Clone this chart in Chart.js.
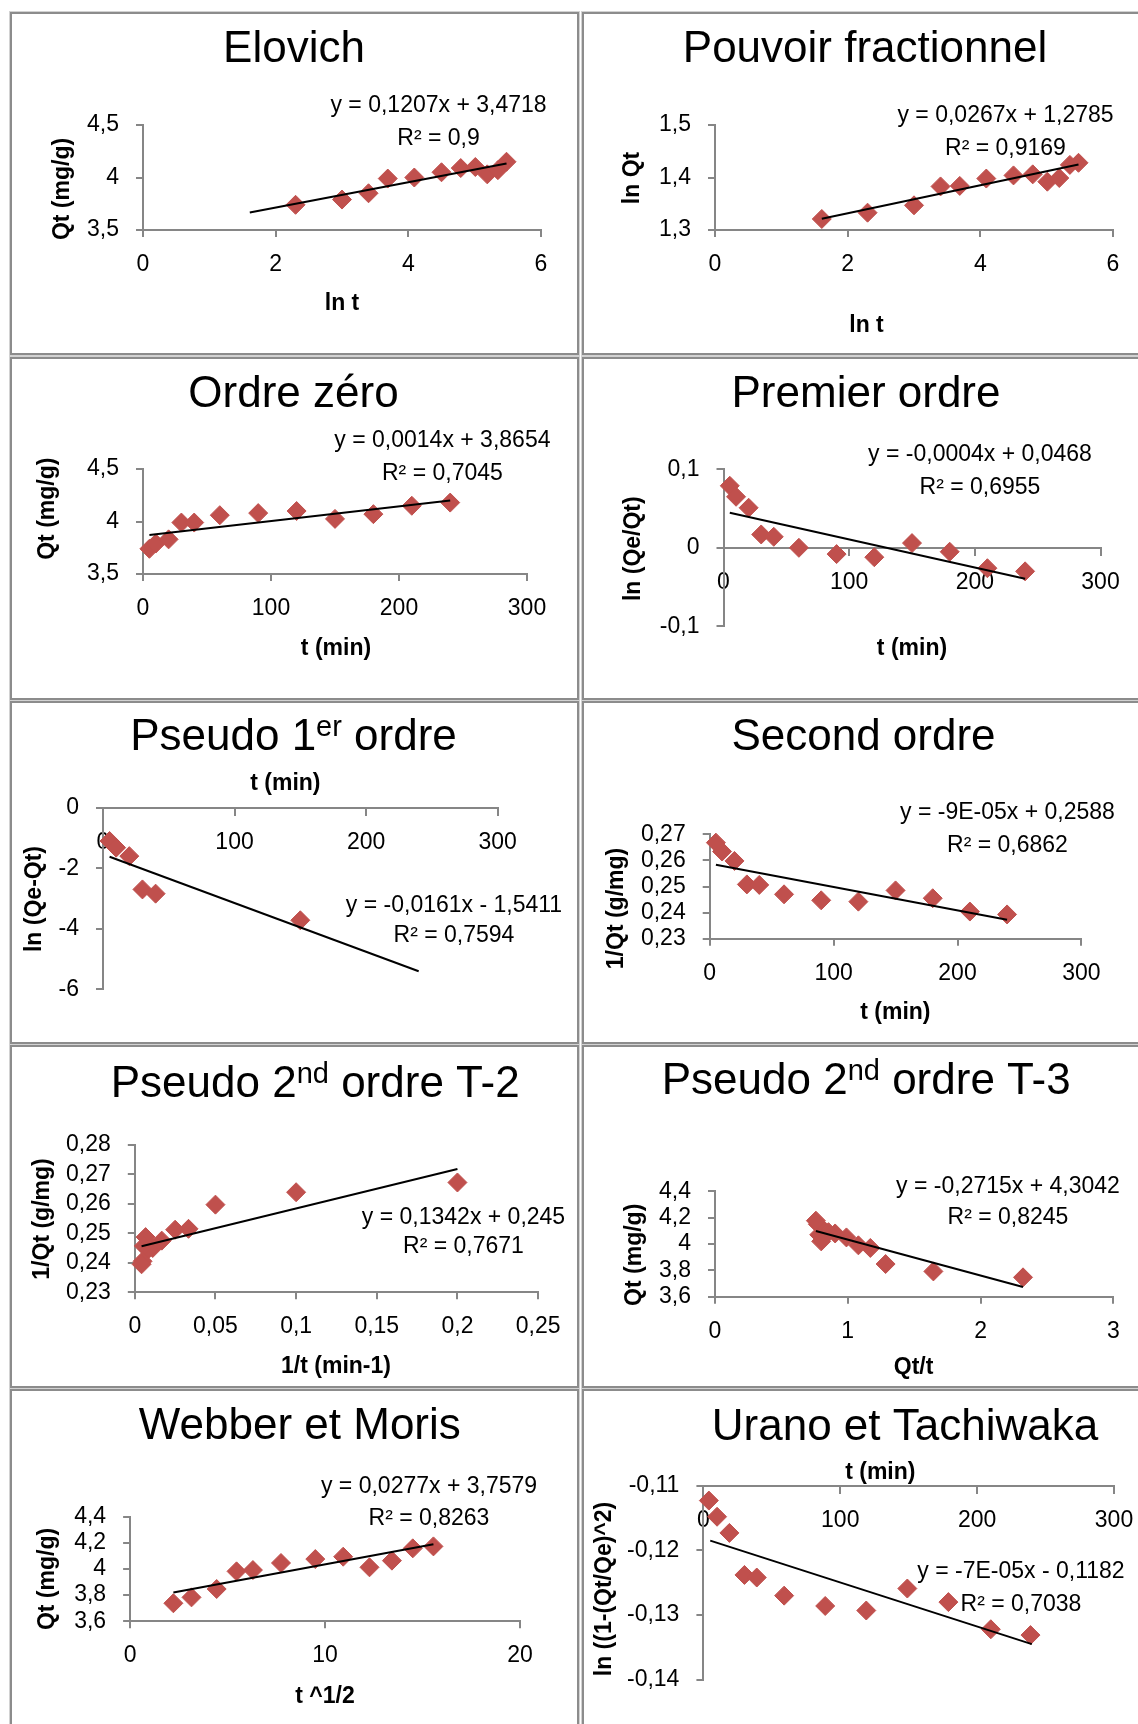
<!DOCTYPE html>
<html><head><meta charset="utf-8">
<script src="https://cdn.jsdelivr.net/npm/chart.js@4.4.0/dist/chart.umd.min.js"></script>
<style>
html,body{margin:0;padding:0;background:#fff;}
body{width:1138px;height:1724px;overflow:hidden;position:relative;}
.box{position:absolute;box-sizing:border-box;border:2px solid #8c8c8c;outline:1px solid #d2d2d2;}
canvas{position:absolute;}
</style></head><body>
<script>
// ================= DATA =================
const tMin = [5, 10, 20, 30, 40, 60, 90, 120, 150, 180, 210, 240];

// Elovich : Qt vs ln t
const elovichX = [2.30, 3.00, 3.40, 3.69, 4.09, 4.50, 4.79, 5.01, 5.19, 5.35, 5.48];
const elovichY = [3.74, 3.79, 3.85, 3.99, 4.00, 4.05, 4.09, 4.10, 4.03, 4.07, 4.15];
const elovichFitX = [1.61, 5.48];
const elovichFitY = [3.666, 4.133];
const elovichEq = ['y = 0,1207x + 3,4718', 'R² = 0,9'];
const elovichXRange = [0, 6, 2];
const elovichYRange = [3.5, 4.5, 0.5];

// Pouvoir fractionnel : ln Qt vs ln t
const pouvoirX = [1.61, 2.30, 3.00, 3.40, 3.69, 4.09, 4.50, 4.79, 5.01, 5.19, 5.35, 5.48];
const pouvoirY = [1.321, 1.333, 1.347, 1.383, 1.384, 1.398, 1.404, 1.406, 1.392, 1.399, 1.424, 1.428];
const pouvoirFitX = [1.61, 5.48];
const pouvoirFitY = [1.3215, 1.4248];
const pouvoirEq = ['y = 0,0267x + 1,2785', 'R² = 0,9169'];
const pouvoirXRange = [0, 6, 2];
const pouvoirYRange = [1.3, 1.5, 0.1];

// Ordre zéro : Qt vs t
const zeroY = [3.74, 3.79, 3.83, 3.99, 3.99, 4.06, 4.08, 4.10, 4.025, 4.07, 4.15, 4.18];
const zeroFitX = [5, 240];
const zeroFitY = [3.872, 4.201];
const zeroEq = ['y = 0,0014x + 3,8654', 'R² = 0,7045'];
const zeroXRange = [0, 300, 100];
const zeroYRange = [3.5, 4.5, 0.5];

// Premier ordre : ln(Qe/Qt) vs t
const premierY = [0.079, 0.065, 0.051, 0.017, 0.014, 0.000, -0.008, -0.012, 0.006, -0.005, -0.026, -0.030];
const premierFitX = [5, 240];
const premierFitY = [0.0446, -0.0395];
const premierEq = ['y = -0,0004x + 0,0468', 'R² = 0,6955'];
const premierXRange = [0, 300, 100];
const premierYRange = [-0.1, 0.1, 0.1];

// Pseudo 1er ordre : ln(Qe-Qt) vs t
const pseudo1T = [5, 10, 20, 30, 40, 150];
const pseudo1Y = [-1.10, -1.32, -1.60, -2.70, -2.84, -3.72];
const pseudo1FitX = [5, 240];
const pseudo1FitY = [-1.62, -5.405];
const pseudo1Eq = ['y = -0,0161x - 1,5411', 'R² = 0,7594'];
const pseudo1XRange = [0, 300, 100];
const pseudo1YRange = [-6, 0, 2];

// Second ordre : 1/Qt vs t
const secondY = [0.2668, 0.2634, 0.2598, 0.2508, 0.2506, 0.2470, 0.2447, 0.2442, 0.2485, 0.2455, 0.2404, 0.2393];
const secondFitX = [5, 240];
const secondFitY = [0.2583, 0.2373];
const secondEq = ['y = -9E-05x + 0,2588', 'R² = 0,6862'];
const secondXRange = [0, 300, 100];
const secondYRange = [0.23, 0.27, 0.01];

// Pseudo 2nd ordre T-2 : 1/Qt vs 1/t
const t2X = [0.2, 0.1, 0.05, 0.0333, 0.025, 0.0167, 0.0111, 0.0083, 0.0067, 0.0056, 0.0048, 0.0042];
const t2Y = [0.2672, 0.2639, 0.2597, 0.2515, 0.2512, 0.2475, 0.2450, 0.2445, 0.2487, 0.2457, 0.2405, 0.2395];
const t2FitX = [0.0042, 0.2];
const t2FitY = [0.2456, 0.2718];
const t2Eq = ['y = 0,1342x + 0,245', 'R² = 0,7671'];
const t2XRange = [0, 0.25, 0.05];
const t2YRange = [0.23, 0.28, 0.01];

// Pseudo 2nd ordre T-3 : Qt vs Qt/t
const t3X = [2.32, 1.645, 1.285, 1.17, 1.08, 0.99, 0.905, 0.855, 0.80, 0.785, 0.775, 0.76];
const t3Y = [3.747, 3.792, 3.848, 3.97, 3.99, 4.05, 4.08, 4.09, 4.02, 4.07, 4.15, 4.177];
const t3FitX = [0.76, 2.32];
const t3FitY = [4.098, 3.674];
const t3Eq = ['y = -0,2715x + 4,3042', 'R² = 0,8245'];
const t3XRange = [0, 3, 1];
const t3YRange = [3.6, 4.4, 0.2];

// Webber et Moris : Qt vs t^1/2
const webberX = [2.22, 3.15, 4.44, 5.46, 6.30, 7.74, 9.50, 10.93, 12.28, 13.43, 14.50, 15.56];
const webberY = [3.738, 3.783, 3.847, 3.982, 3.992, 4.046, 4.076, 4.094, 4.013, 4.064, 4.158, 4.173];
const webberFitX = [2.22, 15.56];
const webberFitY = [3.820, 4.189];
const webberEq = ['y = 0,0277x + 3,7579', 'R² = 0,8263'];
const webberXRange = [0, 20, 10];
const webberYRange = [3.6, 4.4, 0.2];

// Urano et Tachiwaka : ln(1-(Qt/Qe)^2) vs t
const uranoT = [4, 10, 19, 30, 39, 59, 89, 119, 149, 179, 210, 239];
const uranoY = [-0.1123, -0.1148, -0.1173, -0.1238, -0.1242, -0.1270, -0.1286, -0.1293, -0.1259, -0.1280, -0.1322, -0.1331];
const uranoFitX = [5, 240];
const uranoFitY = [-0.1185, -0.1345];
const uranoEq = ['y = -7E-05x - 0,1182', 'R² = 0,7038'];
const uranoXRange = [0, 300, 100];
const uranoYRange = [-0.14, -0.11, 0.01];

// ================= STYLE / LAYOUT =================
const FONT = "'Liberation Sans', Arial, Helvetica, sans-serif";
const MARKER = '#C0504D';
const AXIS = '#868686';
const L = 10, R = 582, W_L = 569, W_R = 570, H = 343;
const ROWS = [12, 357, 701, 1045, 1389];

const PANELS = [
  { box:[L,ROWS[0],W_L,H], plot:[143,125,541,230], xs:elovichX, ys:elovichY, fitX:elovichFitX, fitY:elovichFitY,
    xr:elovichXRange, yr:elovichYRange, title:[{t:'Elovich'}], titleAt:[294,62],
    yTitle:'Qt (mg/g)', yTitleAt:[63,189], xTitle:'ln t', xTitleAt:[342,304], eq:elovichEq, eqAt:[438.5,112,144.5] },
  { box:[R,ROWS[0],W_R,H], plot:[715,125,1113,230], xs:pouvoirX, ys:pouvoirY, fitX:pouvoirFitX, fitY:pouvoirFitY,
    xr:pouvoirXRange, yr:pouvoirYRange, title:[{t:'Pouvoir fractionnel'}], titleAt:[865,62],
    yTitle:'ln Qt', yTitleAt:[632.5,178], xTitle:'ln t', xTitleAt:[866.5,326], eq:pouvoirEq, eqAt:[1005.5,122.3,154.7] },
  { box:[L,ROWS[1],W_L,H], plot:[143,469,527,574], xs:tMin, ys:zeroY, fitX:zeroFitX, fitY:zeroFitY,
    xr:zeroXRange, yr:zeroYRange, title:[{t:'Ordre zéro'}], titleAt:[293.5,407],
    yTitle:'Qt (mg/g)', yTitleAt:[48,508.7], xTitle:'t (min)', xTitleAt:[336,649], eq:zeroEq, eqAt:[442.4,447,479.5] },
  { box:[R,ROWS[1],W_R,H], plot:[723.5,469.3,1100.5,626.3], xAt:0, xs:tMin, ys:premierY, fitX:premierFitX, fitY:premierFitY,
    xr:premierXRange, yr:premierYRange, title:[{t:'Premier ordre'}], titleAt:[866,407],
    yTitle:'ln (Qe/Qt)', yTitleAt:[634,548.7], xTitle:'t (min)', xTitleAt:[912,649], eq:premierEq, eqAt:[980,461.3,493.7] },
  { box:[L,ROWS[2],W_L,H], plot:[103,807.7,497.6,989.3], xAt:0, xs:pseudo1T, ys:pseudo1Y, fitX:pseudo1FitX, fitY:pseudo1FitY,
    xr:pseudo1XRange, yr:pseudo1YRange, title:[{t:'Pseudo 1'},{t:'er',sup:true},{t:' ordre'}], titleAt:[293.5,750],
    yTitle:'ln (Qe-Qt)', yTitleAt:[34.5,899], xTitle:'t (min)', xTitleAt:[285.4,783.5], eq:pseudo1Eq, eqAt:[454,911.7,941.7] },
  { box:[R,ROWS[2],W_R,H], plot:[709.7,834.3,1081.4,938.7], xs:tMin, ys:secondY, fitX:secondFitX, fitY:secondFitY,
    xr:secondXRange, yr:secondYRange, title:[{t:'Second ordre'}], titleAt:[863.5,750.3],
    yTitle:'1/Qt (g/mg)', yTitleAt:[616.6,908.5], xTitle:'t (min)', xTitleAt:[895.4,1012.7], eq:secondEq, eqAt:[1007.5,819.3,851.7] },
  { box:[L,ROWS[3],W_L,H], plot:[134.8,1144.7,538.1,1292.3], xs:t2X, ys:t2Y, fitX:t2FitX, fitY:t2FitY,
    xr:t2XRange, yr:t2YRange, title:[{t:'Pseudo 2'},{t:'nd',sup:true},{t:' ordre T-2'}], titleAt:[315.2,1096.7],
    yTitle:'1/Qt (g/mg)', yTitleAt:[42.6,1219], xTitle:'1/t (min-1)', xTitleAt:[336,1366.5], eq:t2Eq, eqAt:[463.5,1224,1253.3] },
  { box:[R,ROWS[3],W_R,H], plot:[715,1191.3,1113.3,1296.7], xs:t3X, ys:t3Y, fitX:t3FitX, fitY:t3FitY,
    xr:t3XRange, yr:t3YRange, title:[{t:'Pseudo 2'},{t:'nd',sup:true},{t:' ordre T-3'}], titleAt:[866.2,1094],
    yTitle:'Qt (mg/g)', yTitleAt:[634.3,1254.8], xTitle:'Qt/t', xTitleAt:[913.6,1367.3], eq:t3Eq, eqAt:[1008,1193.3,1224] },
  { box:[L,ROWS[4],W_L,H], plot:[130.1,1516.7,520,1621.3], xs:webberX, ys:webberY, fitX:webberFitX, fitY:webberFitY,
    xr:webberXRange, yr:webberYRange, title:[{t:'Webber et Moris'}], titleAt:[299.8,1439],
    yTitle:'Qt (mg/g)', yTitleAt:[48,1579], xTitle:'t ^1/2', xTitleAt:[325,1696.3], eq:webberEq, eqAt:[429,1493.3,1525] },
  { box:[R,ROWS[4],W_R,H], plot:[703.4,1485.7,1114,1679.7], xAt:-0.11, xs:uranoT, ys:uranoY, fitX:uranoFitX, fitY:uranoFitY,
    xr:uranoXRange, yr:uranoYRange, title:[{t:'Urano et Tachiwaka'}], titleAt:[905,1439.7],
    yTitle:'ln ((1-(Qt/Qe)^2)', yTitleAt:[605,1589], xTitle:'t (min)', xTitleAt:[880.3,1472.3], eq:uranoEq, eqAt:[1021,1578.3,1611.3] }
];

function fmt(v){ return parseFloat(Number(v).toFixed(6)).toString().replace('.', ','); }

function textPlugin(p){
  return { id:'panelText', afterDraw(chart){
    const ctx = chart.ctx; const bx = p.box[0], by = p.box[1];
    ctx.save();
    ctx.fillStyle = '#000';
    const tf = 44, sf = 29;
    let total = 0;
    const segs = p.title.map(s => { ctx.font = (s.sup ? sf : tf) + 'px ' + FONT; const w = ctx.measureText(s.t).width; total += w; return {t:s.t, sup:!!s.sup, w}; });
    let x = p.titleAt[0] - bx - total / 2; const base = p.titleAt[1] - by;
    ctx.textAlign = 'left'; ctx.textBaseline = 'alphabetic';
    segs.forEach(s => { ctx.font = (s.sup ? sf : tf) + 'px ' + FONT; ctx.fillText(s.t, x, s.sup ? base - 14 : base); x += s.w; });
    ctx.font = '23px ' + FONT; ctx.textAlign = 'center';
    p.eq.forEach((line, i) => ctx.fillText(line, p.eqAt[0] - bx, p.eqAt[1 + i] - by));
    ctx.font = 'bold 23px ' + FONT; ctx.textBaseline = 'middle';
    ctx.fillText(p.xTitle, p.xTitleAt[0] - bx, p.xTitleAt[1] - by);
    ctx.translate(p.yTitleAt[0] - bx, p.yTitleAt[1] - by); ctx.rotate(-Math.PI / 2);
    ctx.fillText(p.yTitle, 0, 0);
    ctx.restore();
  }};
}

PANELS.forEach(p => {
  const [bx, by, bw, bh] = p.box;
  const [pl, pt, pr, pb] = p.plot;
  const box = document.createElement('div'); box.className = 'box';
  box.style.left = bx + 'px'; box.style.top = by + 'px'; box.style.width = bw + 'px'; box.style.height = bh + 'px';
  document.body.appendChild(box);
  const cv = document.createElement('canvas');
  cv.width = bw; cv.height = bh;
  cv.style.left = bx + 'px'; cv.style.top = by + 'px'; cv.style.width = bw + 'px'; cv.style.height = bh + 'px';
  document.body.appendChild(cv);
  const xBottom = (p.xAt === undefined);
  const tickFont = { family: FONT, size: 23 };
  new Chart(cv, {
    type: 'scatter',
    data: { datasets: [
      { data: p.fitX.map((x, i) => ({x, y: p.fitY[i]})), showLine: true, borderColor: '#000', borderWidth: 2,
        pointRadius: 0, fill: false, clip: false },
      { data: p.xs.map((x, i) => ({x, y: p.ys[i]})), showLine: false, pointStyle: 'rectRot', pointRadius: 9.5,
        backgroundColor: MARKER, borderColor: MARKER, borderWidth: 1, clip: false }
    ]},
    options: {
      responsive: false, animation: false, events: [],
      layout: { padding: { left: 0, top: pt - by, right: bx + bw - pr, bottom: xBottom ? 0 : (by + bh - pb) } },
      plugins: { legend: { display: false }, title: { display: false }, tooltip: { enabled: false } },
      scales: {
        x: { type: 'linear', min: p.xr[0], max: p.xr[1], position: xBottom ? 'bottom' : { y: p.xAt },
             ticks: { stepSize: p.xr[2], autoSkip: false, maxRotation: 0, minRotation: 0, padding: 14, color: '#000', font: tickFont, callback: v => fmt(v) },
             grid: { drawOnChartArea: false, drawTicks: true, tickLength: 7, color: AXIS, lineWidth: 2 },
             border: { display: true, color: AXIS, width: 2 },
             title: { display: false },
             afterFit: s => { if (xBottom) s.height = by + bh - pb; } },
        y: { type: 'linear', min: p.yr[0], max: p.yr[1], position: 'left',
             ticks: { stepSize: p.yr[2], autoSkip: false, padding: 17, color: '#000', font: tickFont, callback: v => fmt(v) },
             grid: { drawOnChartArea: false, drawTicks: true, tickLength: 7, color: AXIS, lineWidth: 2 },
             border: { display: true, color: AXIS, width: 2 },
             title: { display: false },
             afterFit: s => { s.width = pl - bx; } }
      }
    },
    plugins: [ textPlugin(p) ]
  });
});
</script>
</body></html>
